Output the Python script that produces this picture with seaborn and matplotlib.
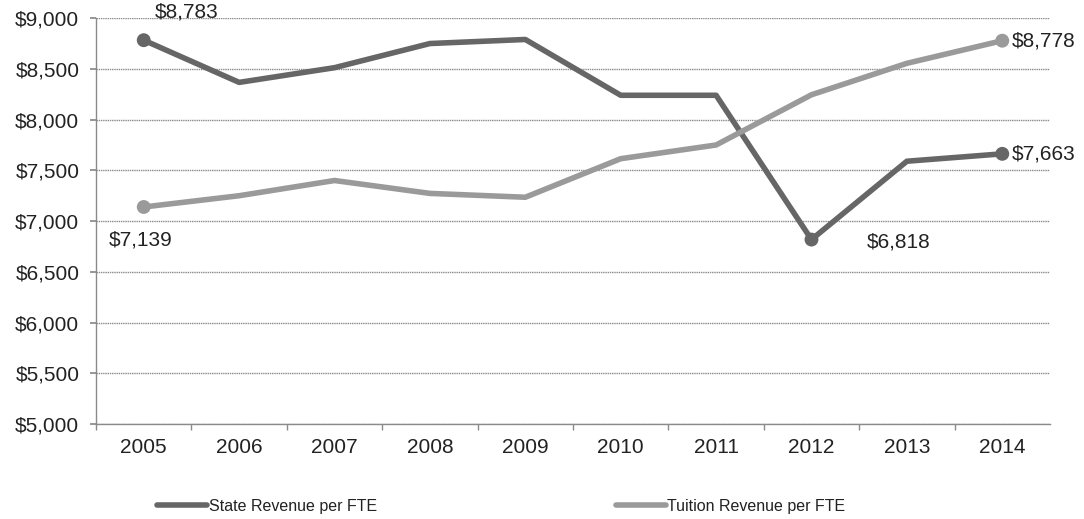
import matplotlib
matplotlib.use("Agg")
import matplotlib.pyplot as plt
from matplotlib.ticker import FuncFormatter, FixedLocator
from matplotlib.lines import Line2D
import seaborn as sns
import pandas as pd

years = [2005, 2006, 2007, 2008, 2009, 2010, 2011, 2012, 2013, 2014]
state_revenue = [8783, 8367, 8512, 8750, 8790, 8240, 8240, 6818, 7590, 7663]
tuition_revenue = [7139, 7250, 7400, 7273, 7235, 7615, 7750, 8245, 8555, 8778]
series_names = ["State Revenue per FTE", "Tuition Revenue per FTE"]
series_colors = ["#666666", "#9a9a9a"]
y_ticks = [5000, 5500, 6000, 6500, 7000, 7500, 8000, 8500, 9000]

df = pd.DataFrame({
    "year": years * 2,
    "value": state_revenue + tuition_revenue,
    "series": [series_names[0]] * len(years) + [series_names[1]] * len(years),
})

sns.set_theme(style="white")
plt.rcParams["font.family"] = ["Liberation Sans", "DejaVu Sans"]

fig = plt.figure(figsize=(10.84, 5.19), dpi=100)
ax = fig.add_axes([0.0886, 0.183, 0.88, 0.782])

palette = dict(zip(series_names, series_colors))
sns.lineplot(data=df, x="year", y="value", hue="series", palette=palette,
             linewidth=4.0, legend=False, ax=ax, zorder=3)

# labelled points: endpoints of both series and the 2012 low of state revenue
labelled = [
    (series_names[0], 2005, (8, 20)),
    (series_names[0], 2012, (40, -2)),
    (series_names[0], 2014, (7, 0)),
    (series_names[1], 2005, (-25, -24)),
    (series_names[1], 2014, (7, 0)),
]
pts = []
for name, yr, off in labelled:
    row = df[(df["series"] == name) & (df["year"] == yr)].iloc[0]
    pts.append(row)
    ax.annotate(f"${row['value']:,.0f}", (row["year"], row["value"]),
                xytext=off, textcoords="offset points", ha="left", va="center",
                fontsize=15, color="#222222", zorder=5)
pts_df = pd.DataFrame(pts)
sns.scatterplot(data=pts_df, x="year", y="value", hue="series", palette=palette,
                s=100, edgecolor="none", legend=False, ax=ax, zorder=4)

ax.set_xlim(years[0] - 0.5, years[-1] + 0.5)
ax.set_ylim(y_ticks[0], y_ticks[-1])
ax.set_xticks(years)
ax.set_xticklabels([str(y) for y in years])
ax.xaxis.set_minor_locator(FixedLocator([y + 0.5 for y in years[:-1]] + [years[0] - 0.5]))
ax.set_yticks(y_ticks)
ax.yaxis.set_major_formatter(FuncFormatter(lambda v, _: f"${v:,.0f}"))
ax.set_xlabel("")
ax.set_ylabel("")

ax.grid(axis="y", color="#8a8a8a", linewidth=1.0, linestyle=(0, (1, 0.6)))
ax.grid(axis="x", visible=False)
ax.set_axisbelow(True)

for side in ["top", "right"]:
    ax.spines[side].set_visible(False)
for side in ["left", "bottom"]:
    ax.spines[side].set_color("#8a8a8a")
    ax.spines[side].set_linewidth(1.0)

ax.tick_params(axis="x", which="major", length=0, pad=10, labelsize=15, labelcolor="#222222")
ax.tick_params(axis="x", which="minor", bottom=True, length=4, color="#8a8a8a", direction="out")
ax.tick_params(axis="y", which="major", left=True, length=4, color="#8a8a8a",
               labelsize=15, labelcolor="#222222", pad=8)

handles = [Line2D([0], [0], color=c, linewidth=4.0) for c in series_colors]
fig.legend(handles, series_names, loc="lower left", bbox_to_anchor=(0.132, -0.018),
           ncol=2, frameon=False, fontsize=11.5, handlelength=3.1, handletextpad=0.1,
           columnspacing=15.0, labelcolor="#222222")

fig.savefig("out.png", dpi=100, facecolor="white")
